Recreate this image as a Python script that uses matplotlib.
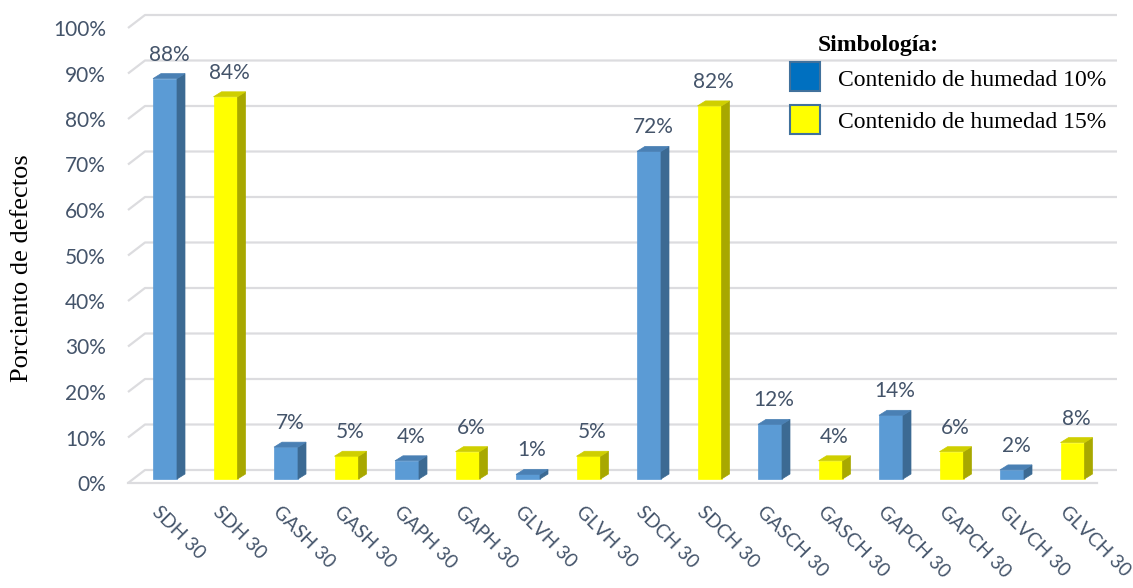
import matplotlib
matplotlib.use("Agg")
import matplotlib.pyplot as plt
from matplotlib.patches import Polygon, Rectangle

# ---------------- data ----------------
categories = ["SDH 30", "SDH 30", "GASH 30", "GASH 30", "GAPH 30", "GAPH 30",
              "GLVH 30", "GLVH 30", "SDCH 30", "SDCH 30", "GASCH 30", "GASCH 30",
              "GAPCH 30", "GAPCH 30", "GLVCH 30", "GLVCH 30"]
values = [88, 84, 7, 5, 4, 6, 1, 5, 72, 82, 12, 4, 14, 6, 2, 8]
series = [0, 1] * 8          # 0 -> humedad 10 %, 1 -> humedad 15 %
series_names = ["Contenido de humedad 10%", "Contenido de humedad 15%"]
yticks = list(range(0, 101, 10))
ylabel = "Porciento de defectos"
legend_title = "Simbología:"

# ---------------- style ----------------
W, H = 1133, 588
TXT = "#44546A"
GRID = "#DCDCDF"
front_col = ["#5B9BD5", "#FFFF00"]
side_col = ["#3C6A93", "#A8A800"]
top_col = ["#4A80B4", "#CFCF00"]
legend_col = ["#0070C0", "#FFFF00"]
SANS = ["Lato", "DejaVu Sans"]
SERIF = ["Liberation Serif", "DejaVu Serif"]

fig = plt.figure(figsize=(W / 100, H / 100), dpi=100)
fig.patch.set_facecolor("white")

# axes frame: left 128px, right 1117px, bottom 483px, top 18px
ax = fig.add_axes([128 / W, (H - 483) / H, 989 / W, 465 / H])
px_per_cat = 60.5
px_per_pct = 4.55
ax.set_xlim((128 - 165) / px_per_cat, (1117 - 165) / px_per_cat)
ax.set_ylim(0, 465 / px_per_pct)
for s in ax.spines.values():
    s.set_visible(False)
ax.set_facecolor("none")

xl, xr = ax.get_xlim()
ddx = 17 / px_per_cat     # depth offset of back wall
ddy = 13 / px_per_pct
# gridlines with perspective
for v in yticks:
    ax.plot([xl, xl + ddx, xr], [v, v + ddy, v + ddy], color=GRID, lw=1.6,
            zorder=0, clip_on=False, solid_capstyle="butt")
# floor front edge
ax.plot([xl, (1097 - 165) / px_per_cat], [0, 0], color=GRID, lw=1.6, zorder=0,
        clip_on=False)

# bars (3D look)
bw = 24 / px_per_cat
sdx = 8 / px_per_cat
sdy = 5 / px_per_pct
b0 = 4 / px_per_pct
xs = list(range(len(values)))
ax.bar(xs, values, width=bw, bottom=b0,
       color=[front_col[s] for s in series],
       edgecolor=[front_col[s] for s in series], lw=0.5, zorder=3)
for x, v, s in zip(xs, values, series):
    r = x + bw / 2
    l = x - bw / 2
    top = b0 + v
    ax.add_patch(Polygon([(r, b0), (r + sdx, b0 + sdy), (r + sdx, top + sdy), (r, top)],
                         closed=True, facecolor=side_col[s], edgecolor=side_col[s],
                         lw=0.5, zorder=3))
    ax.add_patch(Polygon([(l, top), (r, top), (r + sdx, top + sdy), (l + sdx, top + sdy)],
                         closed=True, facecolor=top_col[s], edgecolor=top_col[s],
                         lw=0.5, zorder=3))
    ax.annotate(f"{v}%", (x + sdx / 2, top + sdy), xytext=(0, 9),
                textcoords="offset pixels", ha="center", va="bottom",
                fontsize=15, color=TXT, family=SANS, zorder=4)
    ax.annotate(categories[x], (x, 0), xytext=(-10, -26), textcoords="offset pixels",
                ha="left", va="center", rotation=-45, rotation_mode="anchor",
                fontsize=13.8, color=TXT, family=SANS, annotation_clip=False)

ax.set_xticks([])
ax.set_yticks(yticks)
ax.set_yticklabels([f"{v}%" for v in yticks], family=SANS, fontsize=15, color=TXT)
ax.tick_params(axis="y", length=0, pad=16)

# y label
fig.text(22 / W, 1 - 268 / H, ylabel, rotation=90, ha="center", va="center",
         family=SERIF, fontsize=19, color="black")

# legend
fig.text(818 / W, 1 - 45 / H, legend_title, ha="left", va="center",
         family=SERIF, fontsize=17, fontweight="bold", color="black")
for i, (name, y0) in enumerate(zip(series_names, [62, 105])):
    fig.add_artist(Rectangle((790 / W, 1 - (y0 + 29) / H), 30 / W, 29 / H,
                             transform=fig.transFigure, facecolor=legend_col[i],
                             edgecolor="#41719C", lw=1.5))
    fig.text(838 / W, 1 - (y0 + 18) / H, name, ha="left", va="center",
             family=SERIF, fontsize=17, color="black")

fig.savefig("out.png", dpi=100)
